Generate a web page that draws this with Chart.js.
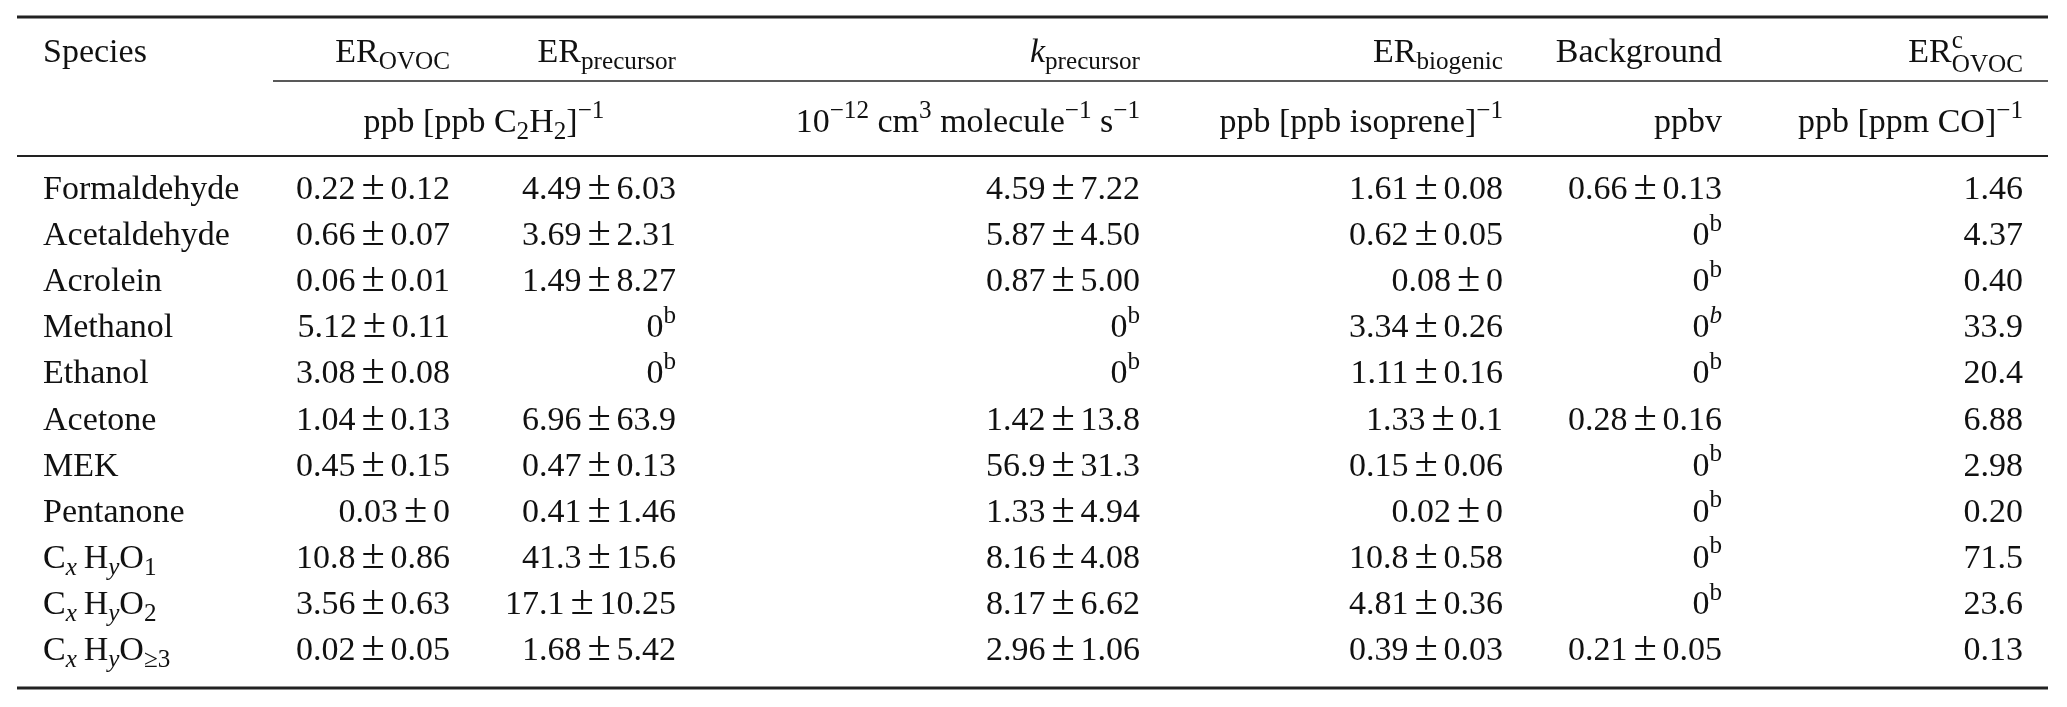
<!DOCTYPE html>
<html>
<head>
<meta charset="utf-8">
<script src="https://cdn.jsdelivr.net/npm/chart.js@4/dist/chart.umd.min.js"></script>
<style>
  html, body { margin: 0; padding: 0; background: #fff; }
  #wrap { width: 2067px; height: 707px; }
</style>
</head>
<body>
<div id="wrap"><canvas id="tbl" width="2067" height="707"></canvas></div>
<script>
// table content; markup: _{..} subscript, ^{..} superscript, *..* italic
const species = ['Formaldehyde', 'Acetaldehyde', 'Acrolein', 'Methanol', 'Ethanol', 'Acetone', 'MEK', 'Pentanone',
  'C_{*x*}\u2009H_{*y*}O_{1}', 'C_{*x*}\u2009H_{*y*}O_{2}', 'C_{*x*}\u2009H_{*y*}O_{≥3}'];
const headers = ['Species', 'ER_{OVOC}', 'ER_{precursor}', '*k*_{precursor}', 'ER_{biogenic}', 'Background', 'ER^{c}_{OVOC}'];
const units = ['', 'ppb [ppb C_{2}H_{2}]^{−1}', '', '10^{−12} cm^{3} molecule^{−1} s^{−1}', 'ppb [ppb isoprene]^{−1}', 'ppbv', 'ppb [ppm CO]^{−1}'];

const erOvoc = ['0.22±0.12', '0.66±0.07', '0.06±0.01', '5.12±0.11', '3.08±0.08', '1.04±0.13', '0.45±0.15', '0.03±0', '10.8±0.86', '3.56±0.63', '0.02±0.05'];
const erPrecursor = ['4.49±6.03', '3.69±2.31', '1.49±8.27', '0^{b}', '0^{b}', '6.96±63.9', '0.47±0.13', '0.41±1.46', '41.3±15.6', '17.1±10.25', '1.68±5.42'];
const kPrecursor = ['4.59±7.22', '5.87±4.50', '0.87±5.00', '0^{b}', '0^{b}', '1.42±13.8', '56.9±31.3', '1.33±4.94', '8.16±4.08', '8.17±6.62', '2.96±1.06'];
const erBiogenic = ['1.61±0.08', '0.62±0.05', '0.08±0', '3.34±0.26', '1.11±0.16', '1.33±0.1', '0.15±0.06', '0.02±0', '10.8±0.58', '4.81±0.36', '0.39±0.03'];
const background = ['0.66±0.13', '0^{b}', '0^{b}', '0^{*b*}', '0^{b}', '0.28±0.16', '0^{b}', '0^{b}', '0^{b}', '0^{b}', '0.21±0.05'];
const erOvocCo = ['1.46', '4.37', '0.40', '33.9', '20.4', '6.88', '2.98', '0.20', '71.5', '23.6', '0.13'];

const columns = [species, erOvoc, erPrecursor, kPrecursor, erBiogenic, background, erOvocCo];

// layout (x in scale units = px)
const FONT = 'Liberation Serif, Times New Roman, serif';
const SIZE = 34;
const colAnchor = [43, 450, 676, 1140, 1503, 1722, 2023];
const colAlign = ['left', 'right', 'right', 'right', 'right', 'right', 'right'];
const firstNumLeft = 292;
const ruleX = [17, 2048];

function parseRich(s) {
  const segs = [];
  let i = 0, italic = false, buf = '';
  const flush = () => { if (buf) segs.push({ t: buf, mode: 'n', italic }); buf = ''; };
  while (i < s.length) {
    const c = s[i];
    if ((c === '_' || c === '^') && s[i + 1] === '{') {
      flush();
      const end = s.indexOf('}', i);
      const inner = s.slice(i + 2, end);
      inner.split('*').forEach((part, k) => {
        if (part) segs.push({ t: part, mode: c === '_' ? 'sub' : 'sup', italic: k % 2 ? !italic : italic });
      });
      i = end + 1;
    } else if (c === '*') { flush(); italic = !italic; i++; }
    else if (c === '±') { flush(); segs.push({ t: '±', mode: 'pm', italic: false }); i++; }
    else { buf += c; i++; }
  }
  flush();
  return segs;
}

function fontFor(seg, size) {
  let sz = size;
  if (seg.mode === 'sub' || seg.mode === 'sup') sz = size * 0.74;
  if (seg.mode === 'pm') sz = size * 1.25;
  return (seg.italic ? 'italic ' : '') + sz + 'px ' + FONT;
}

function layoutRich(ctx, str, size) {
  const segs = parseRich(str);
  let x = 0, supStart = null, supEnd = null, prev = null;
  segs.forEach(seg => {
    ctx.font = fontFor(seg, size);
    const w = ctx.measureText(seg.t).width;
    const pad = seg.mode === 'pm' ? size * 0.17 : 0;
    seg.dy = 0;
    if (seg.mode === 'sup') seg.dy = -size * 0.42;
    if (seg.mode === 'sub') seg.dy = size * 0.2;
    if (seg.mode === 'sub' && prev && prev.mode === 'sup') {
      // stacked sub/superscript
      x = supStart; seg.dy = size * 0.3;
      seg.x = x; x += w; x = Math.max(x, supEnd);
    } else {
      if (seg.mode === 'sup' && (!prev || prev.mode !== 'sup')) supStart = x;
      seg.x = x + pad; x += w + 2 * pad;
      if (seg.mode === 'sup') supEnd = x;
    }
    prev = seg;
  });
  return { segs, width: x };
}

function drawRich(ctx, str, x, y, align, size) {
  const { segs, width } = layoutRich(ctx, str, size);
  let x0 = x;
  if (align === 'right') x0 = x - width;
  if (align === 'center') x0 = x - width / 2;
  ctx.textAlign = 'left';
  ctx.textBaseline = 'alphabetic';
  segs.forEach(seg => {
    ctx.font = fontFor(seg, size);
    ctx.fillText(seg.t, x0 + seg.x, y + seg.dy);
  });
}

const tablePlugin = {
  id: 'tablePlugin',
  afterDraw(chart) {
    const ctx = chart.ctx;
    const xs = chart.scales.x, ys = chart.scales.y;
    const area = chart.chartArea;
    const X = v => xs.getPixelForValue(v);
    ctx.save();
    ctx.fillStyle = '#111';
    ctx.strokeStyle = '#222';

    const rule = (y, x0, x1, w) => {
      ctx.lineWidth = w;
      ctx.beginPath(); ctx.moveTo(X(x0), y); ctx.lineTo(X(x1), y); ctx.stroke();
    };
    rule(area.top - 150, ruleX[0], ruleX[1], 3);
    rule(area.top - 86, 273, ruleX[1], 1.6);
    rule(area.top - 11, ruleX[0], ruleX[1], 2);
    rule(area.bottom + 14, ruleX[0], ruleX[1], 3);

    // header rows
    const hy = area.top - 105, uy = area.top - 35;
    headers.forEach((h, c) => drawRich(ctx, h, X(colAnchor[c]), hy, colAlign[c], SIZE));
    units.forEach((u, c) => {
      if (!u) return;
      if (c === 1) drawRich(ctx, u, X((firstNumLeft + colAnchor[2]) / 2), uy, 'center', SIZE);
      else drawRich(ctx, u, X(colAnchor[c]), uy, colAlign[c], SIZE);
    });

    // body cells on the category scale
    ys.getLabels().forEach((lab, r) => {
      const y = ys.getPixelForValue(r) + 9;
      columns.forEach((col, c) => drawRich(ctx, col[r], X(colAnchor[c]), y, colAlign[c], SIZE));
    });
    ctx.restore();
  }
};

new Chart(document.getElementById('tbl'), {
  type: 'scatter',
  data: { labels: species, datasets: [] },
  options: {
    responsive: false,
    animation: false,
    events: [],
    layout: { padding: { top: 167, bottom: 33, left: 0, right: 0 } },
    plugins: { legend: { display: false }, tooltip: { enabled: false } },
    scales: {
      x: { type: 'linear', min: 0, max: 2067, display: false },
      y: { type: 'category', labels: species, offset: true, display: false }
    }
  },
  plugins: [tablePlugin]
});
</script>
</body>
</html>
